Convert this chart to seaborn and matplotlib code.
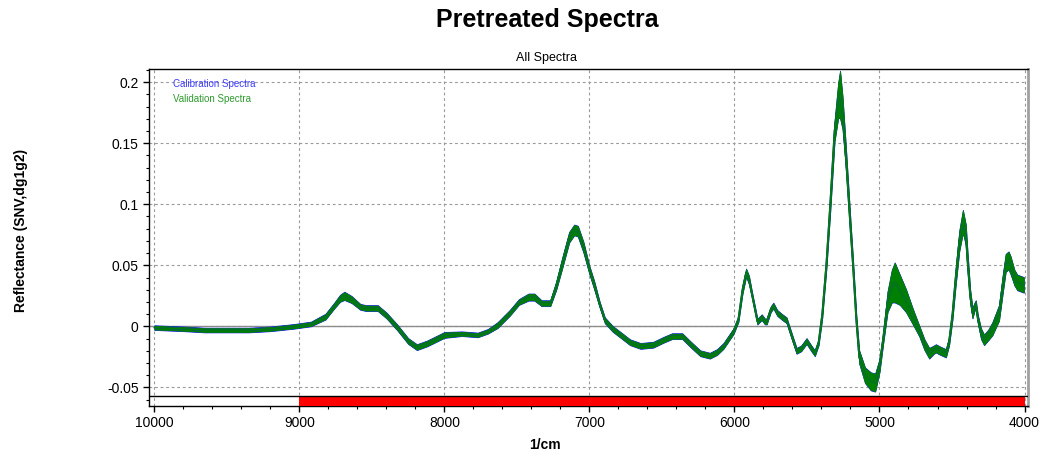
import numpy as np
import pandas as pd
import matplotlib
matplotlib.use('Agg')
import matplotlib.pyplot as plt
from matplotlib.ticker import MultipleLocator, FormatStrFormatter
import seaborn as sns

# wavenumber (1/cm), band centre and band half-width
wavenumber = [10000, 9800, 9650, 9500, 9350, 9200, 9040, 8920, 8820, 8760, 8720, 8690, 8640,
              8580, 8540, 8460, 8400, 8324, 8250, 8190, 8120, 8000, 7880, 7770, 7700, 7634,
              7550, 7486, 7420, 7380, 7330, 7270, 7230, 7190, 7140, 7105, 7080, 7042, 7000,
              6968, 6930, 6894, 6840, 6796, 6720, 6648, 6560, 6490, 6430, 6360, 6300, 6236,
              6170, 6120, 6076, 6007, 5973, 5945, 5920, 5900, 5881, 5842, 5812, 5790, 5778,
              5750, 5732, 5705, 5675, 5641, 5600, 5572, 5540, 5503, 5470, 5446, 5420, 5395,
              5366, 5340, 5310, 5285, 5272, 5255, 5230, 5200, 5183, 5160, 5140, 5100, 5060,
              5030, 5000, 4975, 4945, 4915, 4895, 4860, 4817, 4770, 4725, 4690, 4657, 4625,
              4611, 4580, 4542, 4520, 4497, 4475, 4450, 4425, 4405, 4394, 4375, 4359, 4345,
              4336, 4322, 4300, 4279, 4250, 4222, 4176, 4150, 4130, 4110, 4096, 4070, 4050,
              4005]
centre = [-0.001, -0.002, -0.003, -0.003, -0.003, -0.002, 0.000, 0.002, 0.008, 0.017, 0.023,
          0.025, 0.022, 0.016, 0.015, 0.015, 0.009, -0.001, -0.012, -0.017, -0.014, -0.007,
          -0.006, -0.007, -0.004, 0.001, 0.011, 0.020, 0.024, 0.024, 0.019, 0.019, 0.033,
          0.051, 0.073, 0.079, 0.078, 0.065, 0.046, 0.034, 0.018, 0.005, -0.002, -0.006,
          -0.013, -0.016, -0.015, -0.011, -0.008, -0.008, -0.015, -0.022, -0.024, -0.021,
          -0.016, -0.004, 0.006, 0.030, 0.044, 0.038, 0.027, 0.004, 0.0075, 0.004, 0.004,
          0.014, 0.017, 0.011, 0.008, 0.005, -0.010, -0.020, -0.018, -0.012, -0.018, -0.022,
          -0.013, 0.010, 0.052, 0.100, 0.160, 0.185, 0.190, 0.175, 0.135, 0.080, 0.050,
          0.005, -0.025, -0.040, -0.045, -0.046, -0.032, -0.010, 0.020, 0.033, 0.036, 0.030,
          0.021, 0.008, -0.004, -0.015, -0.022, -0.019, -0.018, -0.020, -0.022, -0.012,
          0.010, 0.040, 0.070, 0.086, 0.075, 0.055, 0.025, 0.011, 0.016, 0.018, 0.006,
          -0.006, -0.011, -0.007, -0.002, 0.011, 0.035, 0.052, 0.054, 0.050, 0.040, 0.036,
          0.034]
spread = [0.0015, 0.0015, 0.0015, 0.0015, 0.0015, 0.0015, 0.0015, 0.0015, 0.002, 0.002, 0.0025,
          0.003, 0.0025, 0.002, 0.002, 0.002, 0.002, 0.002, 0.002, 0.002, 0.002, 0.002,
          0.0015, 0.0015, 0.0015, 0.002, 0.002, 0.002, 0.0025, 0.0025, 0.002, 0.002, 0.003,
          0.004, 0.004, 0.004, 0.004, 0.004, 0.003, 0.003, 0.002, 0.002, 0.002, 0.002,
          0.002, 0.002, 0.002, 0.002, 0.002, 0.002, 0.002, 0.002, 0.002, 0.002,
          0.002, 0.002, 0.002, 0.003, 0.003, 0.003, 0.002, 0.002, 0.002, 0.002, 0.002,
          0.002, 0.002, 0.002, 0.002, 0.002, 0.002, 0.002, 0.002, 0.002, 0.002, 0.002,
          0.002, 0.003, 0.004, 0.006, 0.008, 0.014, 0.019, 0.013, 0.008, 0.006, 0.005,
          0.004, 0.005, 0.006, 0.007, 0.007, 0.005, 0.004, 0.008, 0.013, 0.016, 0.012,
          0.009, 0.006, 0.004, 0.004, 0.004, 0.003, 0.003, 0.003, 0.003, 0.003,
          0.004, 0.006, 0.008, 0.009, 0.008, 0.007, 0.005, 0.004, 0.003, 0.003, 0.003,
          0.004, 0.004, 0.004, 0.005, 0.006, 0.007, 0.007, 0.007, 0.007, 0.006, 0.006,
          0.006]
calib_extra = 0.0004  # calibration set reaches a little further than validation

set_names = ['Calibration Spectra', 'Validation Spectra']
set_colors = ['#1a1aff', '#008000']

rows = []
for name in set_names:
    extra = calib_extra if name == set_names[0] else 0.0
    for w, c, s in zip(wavenumber, centre, spread):
        rows.append((name, w, c))
        rows.append((name, w, c - s - extra))
        rows.append((name, w, c + s + extra))
df = pd.DataFrame(rows, columns=['set', 'wn', 'value'])

sns.set_style('white')
plt.rcParams['font.family'] = ['Liberation Sans', 'DejaVu Sans']
plt.rcParams['text.color'] = 'black'
plt.rcParams['axes.labelcolor'] = 'black'
plt.rcParams['xtick.color'] = 'black'
plt.rcParams['ytick.color'] = 'black'

fig = plt.figure(figsize=(10.48, 4.53), dpi=100)
ax = fig.add_axes([149 / 1048, 1 - 406 / 453, (1028 - 149) / 1048, (406 - 69) / 453])

ax.axhline(0, color='#8c8c8c', lw=1, zorder=1)
sns.lineplot(data=df, x='wn', y='value', hue='set', hue_order=set_names,
             palette=set_colors, estimator='mean', errorbar=('pi', 100),
             err_kws={'alpha': 1, 'linewidth': 0.6}, linewidth=1.2,
             legend=False, ax=ax, zorder=3)

ax.set_xlim(10037, 3976)
ax.set_ylim(-0.0652, 0.2108)

# wavelength selection bar at the bottom
ax.fill_between([9000, 4000], -0.0652, -0.0572, color='#ff0000', lw=0, zorder=4)
ax.axhline(-0.0572, color='black', lw=1, zorder=5)

ax.xaxis.set_major_locator(MultipleLocator(1000))
ax.xaxis.set_minor_locator(MultipleLocator(200))
ax.yaxis.set_major_locator(MultipleLocator(0.05))
ax.yaxis.set_minor_locator(MultipleLocator(0.01))
ax.yaxis.set_major_formatter(FormatStrFormatter('%g'))
ax.tick_params(which='major', direction='out', length=4, width=1, labelsize=10,
               bottom=True, left=True, colors='black')
ax.tick_params(which='minor', direction='out', length=2.5, width=0.8, bottom=True, left=True)

ax.grid(True, which='major', color='#9a9a9a', linestyle=(0, (2.5, 2.5)), linewidth=0.8)
ax.set_axisbelow(True)
for side in ['left', 'top', 'bottom']:
    ax.spines[side].set_color('black')
    ax.spines[side].set_linewidth(1)
ax.spines['right'].set_color('#a0a0a0')
ax.spines['right'].set_linewidth(2)

ax.set_xlabel('1/cm', fontsize=10, fontweight='bold')
ax.set_ylabel('Reflectance (SNV,dg1g2)', fontsize=10, fontweight='bold')
ax.xaxis.set_label_coords(0.45, -0.095)
ax.yaxis.set_label_coords(-0.138, 0.52)

ax.text(0.027, 0.955, set_names[0], transform=ax.transAxes, fontsize=7,
        color='#3c3cff', va='center')
ax.text(0.027, 0.91, set_names[1], transform=ax.transAxes, fontsize=7,
        color='#2e9a2e', va='center')

fig.text(547 / 1048, 1 - 20 / 453, 'Pretreated Spectra', ha='center', va='center',
         fontsize=18, fontweight='bold', color='black')
fig.text(547 / 1048, 1 - 58 / 453, 'All Spectra', ha='center', va='center', fontsize=9)

fig.savefig('out.png', dpi=100)
